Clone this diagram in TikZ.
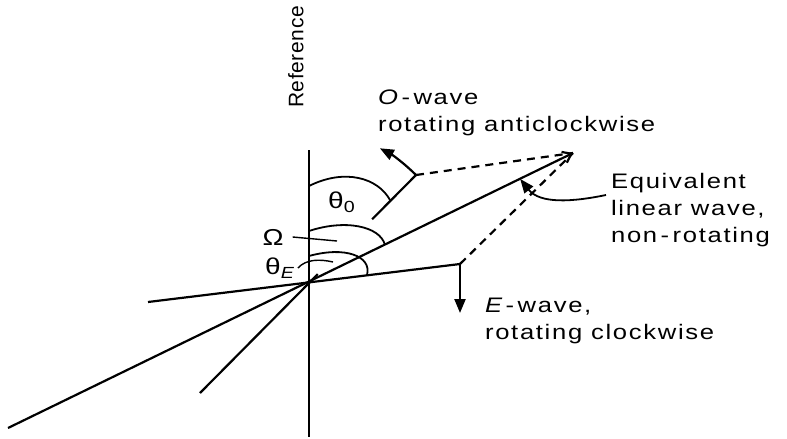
\documentclass[tikz,border=0pt]{standalone}
\usepackage{fontspec}
\setmainfont{Liberation Sans}
\newfontfamily\labfont[FakeStretch=1.22, LetterSpace=8]{Liberation Sans}
\newfontfamily\reffont[LetterSpace=3]{Liberation Sans}
\usetikzlibrary{arrows.meta, calc}

\begin{document}
\begin{tikzpicture}[x=0.5pt, y=-0.5pt, line width=1.1pt,
    lab/.style={font=\labfont\fontsize{10.5}{13.6}\selectfont, inner sep=0pt, align=left},
    greek/.style={font=\labfont\fontsize{11.5}{13}\selectfont, inner sep=0pt},
    tip/.style={-{Triangle[length=7pt, width=5.5pt]}},
    barb/.style={-{Straight Barb[length=4pt, width=6pt]}},
    wavedash/.style={dash pattern=on 4pt off 3pt},
    leader/.style={line width=0.7pt}]
    \useasboundingbox (0,0) rectangle (787,439);

    % origin and the three vector tips
    \coordinate (O) at (309,283);
    \coordinate (Otip) at (416,175);
    \coordinate (Etip) at (460,264);
    \coordinate (Rtip) at (573,153);

    % reference line
    \coordinate (refTop) at (309,150);
    \coordinate (refBot) at (309,437);
    \draw (refTop) -- (refBot);
    \node[font=\reffont\fontsize{10.5}{12}\selectfont, inner sep=0pt, rotate=90] (reflab) at (296,57) {Reference};

    % lines through the origin
    \coordinate (Eback) at (148,302);
    \coordinate (Oback) at (200,393);
    \coordinate (Rback) at (8,428);
    \draw (Eback) -- (Etip);
    \draw[barb] (Rback) -- (Rtip);
    \draw (Oback) -- ($(O)!-0.08!(Oback)$);
    \draw ($(O)!0.59!(Otip)$) -- (Otip);

    % parallelogram sides
    \draw[wavedash] (Otip) -- (Rtip);
    \draw[wavedash] (Etip) -- (Rtip);

    % rotation of the two waves
    \draw[tip] (Otip) arc[start angle=-45, end angle=-62, radius=152];
    \coordinate (Edown) at (460,313);
    \draw[tip] (Etip) -- (Edown);

    % angle arcs from the reference
    \draw[line width=0.9pt] (309,186) .. controls (345,168) and (378,178) .. (390,200);
    \draw[line width=0.9pt] (309,231) .. controls (345,219) and (380,226) .. (385,245);
    \draw[line width=0.9pt] (309,256) .. controls (345,246) and (372,256) .. (367,275);

    % angle labels
    \node[greek] (th0) at (342,202) {θ\textsubscript{0}};
    \node[greek] (om) at (273,237) {Ω};
    \node[greek] (thE) at (280,268) {θ\textsubscript{\itshape E}};
    \coordinate (omend) at (337,241);
    \coordinate (thEend) at (333,262);
    \draw[leader] ([xshift=4pt]om.east) -- (omend);
    \draw[leader] ([xshift=1pt]thE.east) .. controls (306,259) and (320,259) .. (thEend);

    % wave labels
    \node[lab, anchor=north west] (owlab) at (377,89) {{\itshape O}\,-\,wave\\rotating anticlockwise};
    \node[lab, anchor=north west] (eqlab) at (610,172) {Equivalent\\linear wave,\\non\,-\,rotating};
    \node[lab, anchor=north west] (ewlab) at (484,297) {{\itshape E}\,-\,wave,\\rotating clockwise};

    % pointer to the resultant
    \coordinate (eqfoot) at ($(eqlab.north west)+(-4,23)$);
    \draw[tip, line width=0.9pt] (eqfoot) .. controls (572,202) and (540,204) .. ($(O)!0.8!(Rtip)$);
\end{tikzpicture}
\end{document}
